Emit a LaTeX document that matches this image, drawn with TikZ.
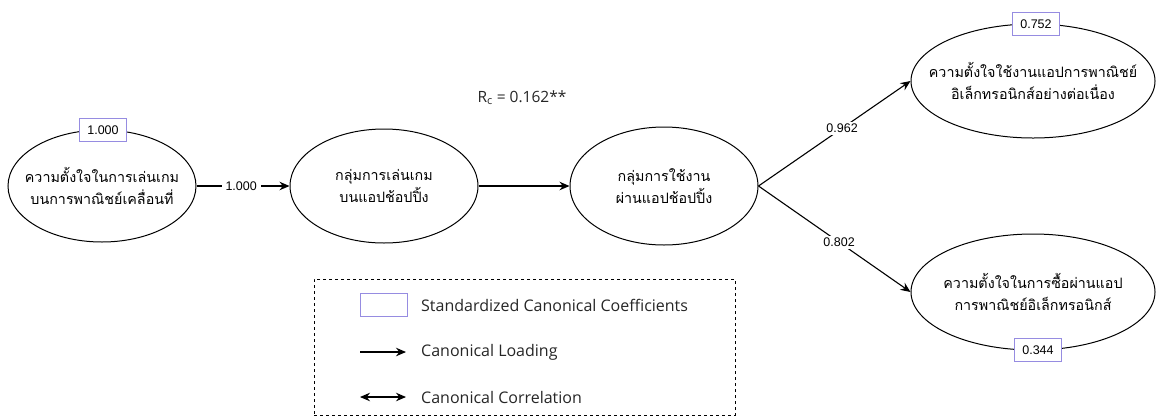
\documentclass[tikz,border=0pt]{standalone}
\usepackage{fontspec}
\setmainfont{Liberation Sans}
\newfontfamily\thaifont[Script=Thai]{Loma}
\newfontfamily\legfont{Open Sans}
\usetikzlibrary{shapes.geometric,arrows.meta}
\definecolor{coefblue}{RGB}{150,140,225}
\tikzset{
  latent/.style={ellipse,draw=black,line width=1pt,inner sep=0pt},
  ltext/.style={inner sep=0pt,align=center,font=\thaifont\fontsize{14.3}{22}\selectfont},
  coef/.style={draw=coefblue,line width=0.8pt,fill=white,minimum width=47pt,minimum height=23pt,inner sep=0pt,font=\fontsize{12.5}{14}\selectfont},
  load/.style={line width=1.1pt,-{Stealth[length=10pt,width=8.5pt]}},
  lbl/.style={fill=white,inner sep=2pt,font=\fontsize{12.5}{14}\selectfont},
  legtext/.style={anchor=west,inner sep=0pt,text=black!85,font=\legfont\fontsize{16}{18}\selectfont}
}
\begin{document}
\begin{tikzpicture}[x=1pt,y=-1pt]
\useasboundingbox (0,0) rectangle (1156,416);
% latent variables
\node[latent,minimum width=188pt,minimum height=112pt] (e1) at (102,186) {};
\node[latent,minimum width=188pt,minimum height=114pt] (e2) at (384,186) {};
\node[latent,minimum width=188pt,minimum height=118pt] (e3) at (664,186) {};
\node[latent,minimum width=244pt,minimum height=114pt] (e4) at (1033,81) {};
\node[latent,minimum width=244pt,minimum height=116pt] (e5) at (1033,292) {};
\node[ltext] (e1t) at (e1.center) {ความตั้งใจในการเล่นเกม\\บนการพาณิชย์เคลื่อนที่};
\node[ltext] (e2t) at (e2.center) {กลุ่มการเล่นเกม\\บนแอปช้อปปิ้ง};
\node[ltext] (e3t) at (e3.center) {กลุ่มการใช้งาน\\ผ่านแอปช้อปปิ้ง};
\node[ltext] (e4t) at (e4.center) {ความตั้งใจใช้งานแอปการพาณิชย์\\อิเล็กทรอนิกส์อย่างต่อเนื่อง};
\node[ltext] (e5t) at (e5.center) {ความตั้งใจในการซื้อผ่านแอป\\การพาณิชย์อิเล็กทรอนิกส์};
% coefficients
\node[coef] (c1) at (103,130) {1.000};
\node[coef] (c4) at (1036,24) {0.752};
\node[coef] (c5) at (1038,350) {0.344};
% correlation label
\node[font=\legfont\fontsize{15.5}{17}\selectfont,text=black!85] (rc) at (522,98) {R\textsubscript{c} = 0.162**};
% connectors
\draw[load] (e1.east) -- node[lbl,pos=0.48,inner xsep=4pt] {1.000} (e2.west);
\draw[load] (e2.east) -- (e3.west);
\draw[load] (e3.east) -- node[lbl,pos=0.55] {0.962} (e4.west);
\draw[load] (e3.east) -- node[lbl,pos=0.53] {0.802} (e5.west);
% legend
\node[draw=black,dashed,line width=0.7pt,minimum width=421pt,minimum height=136pt,inner sep=0pt] (leg) at (524.5,347) {};
\node[draw=coefblue,line width=0.8pt,minimum width=47pt,minimum height=23pt,inner sep=0pt] (legbox) at (383.5,304.5) {};
\node[legtext] (t1) at (421,305) {Standardized Canonical Coefficients};
\coordinate (la1) at (360,352);
\coordinate (la2) at (406,352);
\draw[load] (la1) -- (la2);
\node[legtext] (t2) at (421,352) {Canonical Loading};
\coordinate (lb1) at (360,397);
\coordinate (lb2) at (406,397);
\draw[line width=1.1pt,{Stealth[length=10pt,width=8.5pt]}-{Stealth[length=10pt,width=8.5pt]}] (lb1) -- (lb2);
\node[legtext] (t3) at (421,397) {Canonical Correlation};
\end{tikzpicture}
\end{document}
